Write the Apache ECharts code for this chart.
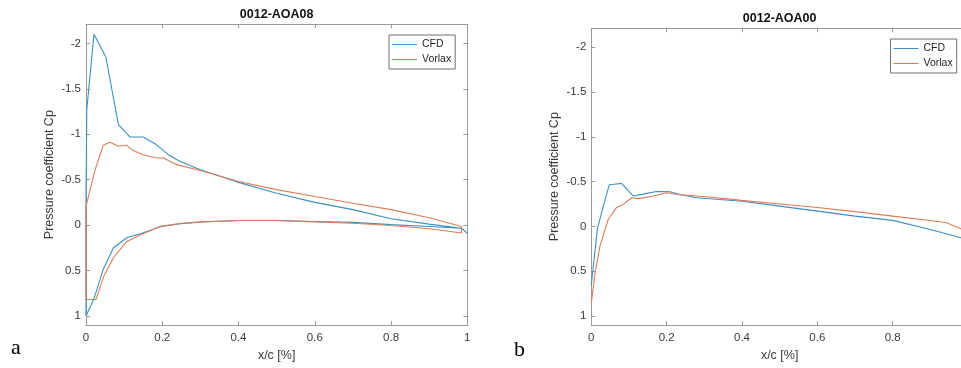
<!DOCTYPE html>
<html>
<head>
<meta charset="utf-8">
<script src="https://cdn.jsdelivr.net/npm/echarts@6/dist/echarts.min.js"></script>
<style>
html,body{margin:0;padding:0;background:#fff;overflow:hidden;width:961px;height:368px;}
#chart{width:975px;height:368px;}
</style>
</head>
<body>
<div id="chart"></div>
<script>
// ---- tick values ----
const xTickValues = [0, 0.2, 0.4, 0.6, 0.8, 1];
const yTickValues = [-2, -1.5, -1, -0.5, 0, 0.5, 1];

// ---- AOA08 (chart a) : closed loop upper TE -> LE -> lower TE ----
const aoa08CfdX  = [1.0, 0.985, 0.9, 0.8, 0.7, 0.6, 0.5, 0.4, 0.35, 0.3, 0.247, 0.216, 0.181, 0.15, 0.115, 0.085, 0.052, 0.021, 0.002, 0.0, 0.0,
                    0.02, 0.045, 0.072, 0.107, 0.146, 0.198, 0.248, 0.317, 0.405, 0.5, 0.6, 0.7, 0.8, 0.9, 0.985];
const aoa08CfdCp = [0.09, 0.035, -0.01, -0.07, -0.17, -0.25, -0.35, -0.47, -0.54, -0.61, -0.70, -0.775, -0.896, -0.97, -0.97, -1.106, -1.85, -2.10, -1.27, -0.25, 1.0,
                    0.82, 0.49, 0.25, 0.14, 0.09, 0.015, -0.014, -0.036, -0.05, -0.05, -0.04, -0.03, -0.005, 0.015, 0.035];

const aoa08VorX  = [0.985, 0.9, 0.8, 0.7, 0.6, 0.5, 0.4, 0.3, 0.238, 0.203, 0.185, 0.15, 0.124, 0.107, 0.085, 0.063, 0.045, 0.024, 0.0, 0.0,
                    0.026, 0.046, 0.072, 0.107, 0.146, 0.198, 0.25, 0.3, 0.4, 0.5, 0.6, 0.7, 0.8, 0.9, 0.985, 0.985];
const aoa08VorCp = [0.015, -0.08, -0.17, -0.24, -0.315, -0.39, -0.48, -0.60, -0.665, -0.738, -0.738, -0.775, -0.82, -0.878, -0.867, -0.911, -0.878, -0.61, -0.206, 0.82,
                    0.82, 0.57, 0.36, 0.18, 0.10, 0.01, -0.02, -0.035, -0.05, -0.05, -0.035, -0.02, 0.005, 0.04, 0.088, 0.015];

// ---- AOA00 (chart b) : leading edge -> trailing edge ----
const aoa00CfdX  = [0, 0.016, 0.032, 0.048, 0.06, 0.08, 0.111, 0.138, 0.173, 0.209, 0.235, 0.28, 0.4, 0.5, 0.6, 0.7, 0.8, 0.881, 0.94, 1.0];
const aoa00CfdCp = [0.66, 0.03, -0.23, -0.465, -0.47, -0.48, -0.34, -0.36, -0.39, -0.386, -0.356, -0.32, -0.28, -0.226, -0.17, -0.115, -0.067, 0.015, 0.08, 0.15];

const aoa00VorX  = [0, 0.01, 0.023, 0.045, 0.067, 0.085, 0.107, 0.125, 0.165, 0.2, 0.227, 0.306, 0.4, 0.5, 0.6, 0.7, 0.8, 0.9, 0.943, 0.981, 1.0];
const aoa00VorCp = [0.85, 0.52, 0.22, -0.08, -0.21, -0.245, -0.32, -0.31, -0.34, -0.375, -0.356, -0.33, -0.29, -0.25, -0.21, -0.165, -0.115, -0.065, -0.04, 0.026, 0.05];

const seriesNames = ['CFD', 'Vorlax'];
const titles = ['0012-AOA08', '0012-AOA00'];
const panelLetters = ['a', 'b'];

function pairs(xs, ys) { return xs.map((x, i) => [x, ys[i]]); }

const CFD_COLOR = '#3b8fc6';
const VOR_COLOR = '#e07b58';
const AXIS_COLOR = '#9a9a9a';
const LABEL_COLOR = '#3a3a3a';
const FONT = 'Liberation Sans, Arial, sans-serif';

// container is 975px wide; the page shows only the left 961px, so panel b is cut at its right edge
const grids = [
  { left: 86, top: 24.3, width: 381.3, bottom: 43 },
  { left: 591.3, top: 28.3, width: 376.7, bottom: 43 }
];

function xAx(gi, pos) {
  const main = pos === 'bottom';
  return {
    type: 'value', gridIndex: gi, position: pos, min: 0, max: 1, interval: 0.2,
    name: main ? 'x/c [%]' : '', nameLocation: 'middle', nameGap: 24,
    nameTextStyle: { fontFamily: FONT, fontSize: 12.5, color: LABEL_COLOR },
    axisLine: { show: true, onZero: false, lineStyle: { color: AXIS_COLOR, width: 1 } },
    axisTick: { show: true, inside: true, length: 4, lineStyle: { color: AXIS_COLOR } },
    axisLabel: { show: main, margin: 7, fontFamily: FONT, fontSize: 11.5, color: LABEL_COLOR },
    splitLine: { show: false }
  };
}
function yAx(gi, pos) {
  const main = pos === 'left';
  return {
    type: 'value', gridIndex: gi, position: pos, min: -2.21, max: 1.1, inverse: true,
    name: main ? 'Pressure coefficient Cp' : '', nameLocation: 'middle', nameGap: 30,
    nameTextStyle: { fontFamily: FONT, fontSize: 12.5, color: LABEL_COLOR },
    axisLine: { show: true, onZero: false, lineStyle: { color: AXIS_COLOR, width: 1 } },
    axisTick: { show: true, inside: true, length: 4, customValues: yTickValues, lineStyle: { color: AXIS_COLOR } },
    axisLabel: { show: main, margin: 5, customValues: yTickValues, fontFamily: FONT, fontSize: 11.5, color: LABEL_COLOR },
    splitLine: { show: false }
  };
}

function lineSeries(name, data, xi, yi, color) {
  return {
    name: name, type: 'line', xAxisIndex: xi, yAxisIndex: yi, data: data,
    symbol: 'none', showSymbol: false, smooth: false, animation: false,
    lineStyle: { color: color, width: 1.1 }, itemStyle: { color: color }
  };
}

function legendAt(left, top) {
  return {
    left: left, top: top, orient: 'vertical', data: seriesNames,
    borderColor: '#707070', borderWidth: 1, backgroundColor: '#fff',
    padding: [4, 4, 4, 3], itemWidth: 25, itemHeight: 1, itemGap: 4,
    icon: 'rect', selectedMode: false,
    textStyle: { fontFamily: FONT, fontSize: 10.5, color: '#262626', lineHeight: 11 }
  };
}

const chart = echarts.init(document.getElementById('chart'), null, { renderer: 'canvas' });
chart.setOption({
  animation: false,
  backgroundColor: '#fff',
  title: [
    { text: titles[0], left: 276.7, top: 8.5, textAlign: 'center', padding: 0,
      textStyle: { fontFamily: FONT, fontSize: 12.5, fontWeight: 'bold', color: '#111' } },
    { text: titles[1], left: 779.7, top: 12.5, textAlign: 'center', padding: 0,
      textStyle: { fontFamily: FONT, fontSize: 12.5, fontWeight: 'bold', color: '#111' } }
  ],
  grid: grids,
  xAxis: [xAx(0, 'bottom'), xAx(0, 'top'), xAx(1, 'bottom'), xAx(1, 'top')],
  yAxis: [yAx(0, 'left'), yAx(0, 'right'), yAx(1, 'left'), yAx(1, 'right')],
  legend: [legendAt(389, 35), legendAt(890.5, 39)],
  series: [
    lineSeries(seriesNames[0], pairs(aoa08CfdX, aoa08CfdCp), 0, 0, CFD_COLOR),
    lineSeries(seriesNames[1], pairs(aoa08VorX, aoa08VorCp), 0, 0, VOR_COLOR),
    lineSeries(seriesNames[0], pairs(aoa00CfdX, aoa00CfdCp), 2, 2, CFD_COLOR),
    lineSeries(seriesNames[1], pairs(aoa00VorX, aoa00VorCp), 2, 2, VOR_COLOR)
  ],
  graphic: [
    { type: 'text', left: 11, top: 337, style: { text: panelLetters[0], fontFamily: 'Liberation Serif, Times New Roman, serif', fontSize: 22, fill: '#000' } },
    { type: 'text', left: 514, top: 339, style: { text: panelLetters[1], fontFamily: 'Liberation Serif, Times New Roman, serif', fontSize: 22, fill: '#000' } }
  ]
});
</script>
</body>
</html>
